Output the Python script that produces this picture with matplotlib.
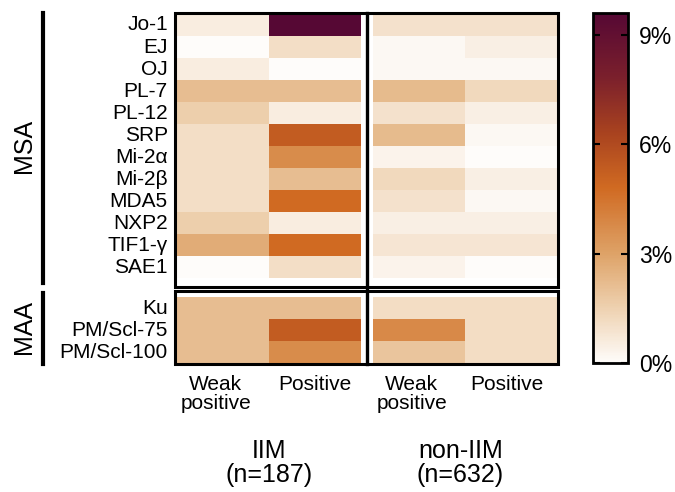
import numpy as np
import matplotlib
matplotlib.use("Agg")
import matplotlib.pyplot as plt
from matplotlib.colors import LinearSegmentedColormap
from matplotlib.patches import Rectangle

plt.rcParams['font.family'] = ['Liberation Sans', 'DejaVu Sans']

msa = ["Jo-1", "EJ", "OJ", "PL-7", "PL-12", "SRP", "Mi-2\u03b1", "Mi-2\u03b2",
       "MDA5", "NXP2", "TIF1-\u03b3", "SAE1"]
maa = ["Ku", "PM/Scl-75", "PM/Scl-100"]
cols = ["Weak\npositive", "Positive", "Weak\npositive", "Positive"]

# percent of patients, columns: IIM weak, IIM pos, non-IIM weak, non-IIM pos
iim_weak = [0.53, 0.0, 0.53, 2.14, 1.60, 1.07, 1.07, 1.07, 1.07, 1.60, 2.67, 0.0,
            2.14, 2.14, 2.14]
iim_pos = [9.63, 1.07, 0.0, 2.14, 0.53, 5.35, 3.74, 2.14, 4.81, 0.53, 4.81, 1.07,
           2.14, 5.35, 3.74]
non_weak = [0.95, 0.16, 0.16, 2.22, 0.95, 2.22, 0.32, 1.27, 0.95, 0.47, 0.79, 0.32,
            1.11, 3.80, 1.90]
non_pos = [0.95, 0.47, 0.16, 1.27, 0.47, 0.16, 0.0, 0.47, 0.16, 0.47, 0.79, 0.0,
           1.11, 1.11, 1.11]

data = np.array([iim_weak, iim_pos, non_weak, non_pos]).T
vmax = 9.6

cmap = LinearSegmentedColormap.from_list(
    "prism", [(0.0, "#fefcfa"), (0.15, "#efd3b3"), (0.31, "#dea368"),
              (0.5, "#d06a22"), (0.66, "#a8421f"), (0.82, "#7a1f2c"),
              (1.0, "#560834")])

fig = plt.figure(figsize=(6.75, 4.92), dpi=100)
W, H = 675, 492
ax = fig.add_axes([175 / W, 1 - 364 / H, 383 / W, 351 / H])

# row / column edges (row height = 1, column width = 1)
msa_y = np.arange(len(msa) + 1)
maa_y = 12.86 + np.arange(len(maa) + 1)
iim_x = np.array([0, 1, 2])
non_x = 2.13 + np.array([0, 1, 2])

kw = dict(cmap=cmap, vmin=0, vmax=vmax, shading="flat", edgecolors="none")
n = len(msa)
ax.pcolormesh(iim_x, msa_y, data[:n, :2], **kw)
ax.pcolormesh(non_x, msa_y, data[:n, 2:], **kw)
ax.pcolormesh(iim_x, maa_y, data[n:, :2], **kw)
mesh = ax.pcolormesh(non_x, maa_y, data[n:, 2:], **kw)

ax.set_xlim(-0.022, 4.141)
ax.set_ylim(15.9, -0.045)
for s in ax.spines.values():
    s.set_visible(False)
ax.set_xticks([])
ax.set_yticks([])

# panel boxes
ax.add_patch(Rectangle((-0.022, -0.045), 4.163, 12.44, fill=False, lw=2.2,
                       ec="black", clip_on=False))
ax.add_patch(Rectangle((-0.022, 12.6), 4.163, 3.3, fill=False, lw=2.2,
                       ec="black", clip_on=False))
ax.plot([2.065, 2.065], [-0.045, 15.9], color="black", lw=2.4, clip_on=False)

# row labels
for i, lab in enumerate(msa):
    ax.text(-0.1, i + 0.5, lab, ha="right", va="center", fontsize=15)
for i, lab in enumerate(maa):
    ax.text(-0.1, maa_y[i] + 0.5, lab, ha="right", va="center", fontsize=15)

# column labels
xc = [0.42, 1.5, non_x[0] + 0.42, non_x[0] + 1.45]
for x, lab in zip(xc, cols):
    ax.text(x, 16.4, lab, ha="center", va="top", fontsize=15,
            linespacing=0.98)
ax.text(1.0, 19.3, "IIM\n(n=187)", ha="center", va="top", fontsize=18,
        linespacing=1.0)
ax.text(non_x[0] + 0.95, 19.3, "non-IIM\n(n=632)", ha="center", va="top",
        fontsize=18, linespacing=1.0)

# group brackets
fig.add_artist(plt.Line2D([43 / W, 43 / W], [1 - 13 / H, 1 - 283 / H],
                          color="black", lw=3))
fig.add_artist(plt.Line2D([43 / W, 43 / W], [1 - 293 / H, 1 - 364 / H],
                          color="black", lw=3))
fig.text(24 / W, 1 - 146 / H, "MSA", rotation=90, ha="center", va="center",
         fontsize=18)
fig.text(24 / W, 1 - 327 / H, "MAA", rotation=90, ha="center", va="center",
         fontsize=18)

# colorbar
cax = fig.add_axes([593 / W, 1 - 363 / H, 35 / W, 350 / H])
cb = fig.colorbar(mesh, cax=cax, ticks=[0, 3, 6, 9])
cb.set_ticklabels(["0%", "3%", "6%", "9%"])
cb.outline.set_linewidth(2)
cax.tick_params(direction="in", length=5, width=1.5, left=True, right=True,
                labelsize=16.5, pad=8)

fig.savefig("out.png", dpi=100)
